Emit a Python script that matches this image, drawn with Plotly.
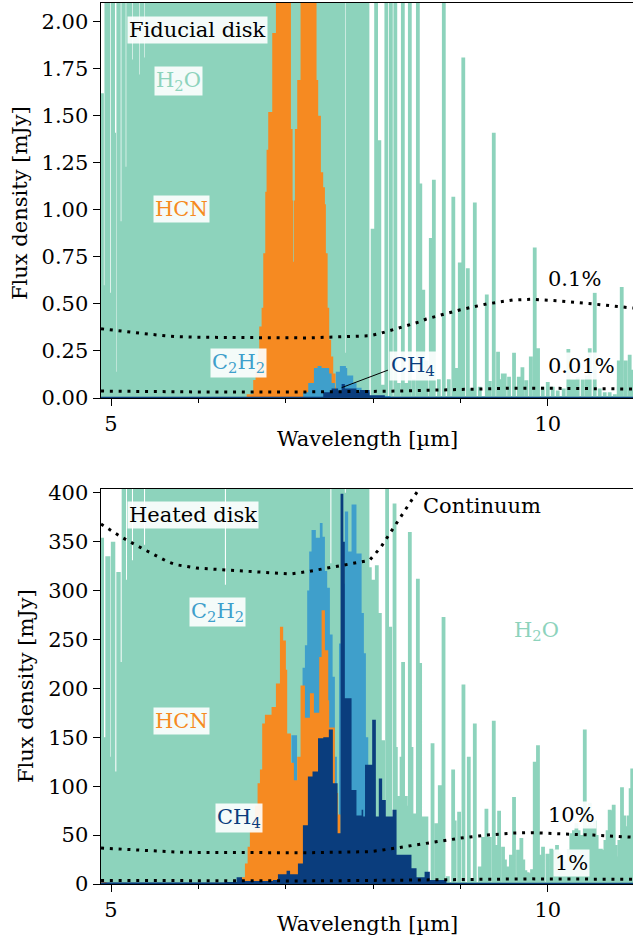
import plotly.graph_objects as go

# ---------- shared ----------
continuum_wave = [4.886, 5.114, 5.38, 5.648, 5.744, 5.98, 7.05, 7.25, 7.66, 7.96, 8.086, 8.196, 8.307, 8.42, 8.527,
                  8.61, 8.99, 9.30, 9.60, 9.81, 10.14, 10.52, 10.976]
continuum_mjy = [368, 355, 342, 329.6, 326.5, 323, 317, 319.4, 326, 331, 344, 359, 374.5, 390, 404,
                 420, 468, 500, 521, 525, 516, 500, 478]

# ---------- fiducial disk (mJy) ----------
h2o1_base_wave = [4.882, 4.918, 4.925, 4.99, 4.998, 5.046, 5.057, 5.062, 5.111, 5.119, 5.168, 5.175, 5.245, 5.252,
                  5.321, 5.327, 5.378, 5.384, 7.68, 7.686, 7.958]
h2o1_base_flux = [1.62, 0.60, 3, 0.56, 3, 1.41, 0.14, 3, 0.94, 3, 1.23, 3, 1.80, 3, 1.72, 3, 1.81, 3, 0.24, 3, 0]
h2o1_line_wave = [7.995, 8.035, 8.072, 8.152, 8.204, 8.255, 8.341, 8.421, 8.513, 8.541, 8.575, 8.612, 8.661, 8.696,
                  8.81, 8.919, 8.993, 9.033, 9.085, 9.165, 9.302, 9.382, 9.431, 9.485, 9.508, 9.557, 9.614, 9.668,
                  9.71, 9.755, 9.806, 9.851, 9.889, 10.0, 10.236, 10.31, 10.481, 10.538, 10.812, 10.847, 10.938,
                  8.112, 8.295, 8.381, 8.467, 8.753, 8.867, 8.959, 9.125, 9.222, 9.336, 9.462, 9.943, 10.057, 10.114,
                  10.183, 10.275, 10.343, 10.4, 10.446, 10.595, 10.652, 10.709, 10.767, 10.892, 10.96]
h2o1_line_flux = [0.9, 3, 1.37, 3, 3, 3, 3, 3, 3, 1.14, 0.575, 0.2, 0.85, 1.16,
                  3, 1.07, 0.72, 1.81, 0.69, 1.04, 0.55, 1.41, 0.246, 0.13, 0.13, 0.113, 0.24, 0.113,
                  0.163, 0.095, 0.22, 0.80, 0.265, 0.085, 0.26, 0.10, 0.265, 0.56, 0.20, 0.59, 0.23,
                  0.07, 0.08, 0.08, 0.10, 0.10, 0.10, 0.16, 0.05, 0.06, 0.09, 0.10, 0.06, 0.06, 0.04,
                  0.05, 0.10, 0.11, 0.10, 0.12, 0.05, 0.03, 0.03, 0.02, 0.20, 0.15]
hcn1_wave = [6.553, 6.628, 6.655, 6.685, 6.697, 6.724, 6.743, 6.766, 6.781, 6.80, 6.846, 6.888, 7.06, 7.079, 7.086,
             7.094, 7.105, 7.132, 7.17, 7.353, 7.372, 7.403, 7.429, 7.449, 7.46, 7.48, 7.498, 7.52, 7.544, 7.571, 7.60]
hcn1_flux = [0.02, 0.096, 0.14, 0.255, 0.38, 0.48, 0.77, 1.096, 1.32, 1.52, 1.94, 3, 1.43, 1.05, 0.725,
             1.05, 1.43, 1.69, 3, 1.69, 1.50, 1.20, 1.12, 1.03, 0.77, 0.48, 0.31, 0.22, 0.13, 0.06, 0]
c2h21_wave = [7.143, 7.2, 7.258, 7.323, 7.365, 7.41, 7.449, 7.498, 7.525, 7.563, 7.574, 7.62, 7.689, 7.704, 7.773,
              7.811, 7.869, 7.963, 8.2]
c2h21_flux = [0, 0.03, 0.08, 0.16, 0.17, 0.16, 0.16, 0.13, 0.08, 0.03, 0.14, 0.17, 0.16, 0.12, 0.08,
              0.055, 0.03, 0.01, 0]
ch41_wave = [4.882, 7.2, 7.43, 7.525, 7.6, 7.64, 7.677, 7.81, 7.85, 7.96, 8.135, 10.976]
ch41_flux = [0.002, 0.005, 0.03, 0.05, 0.04, 0.075, 0.05, 0.03, 0.042, 0.015, 0.005, 0.002]

# ---------- heated disk (mJy) ----------
h2o2_base_wave = [4.882, 4.92, 4.935, 4.992, 4.998, 5.049, 5.061, 5.111, 5.122, 5.172, 5.183, 5.24, 5.252, 5.378, 5.39,
                  6.304, 6.316, 7.511, 7.523, 7.677, 7.688, 7.958]
h2o2_base_flux = [354, 150, 335, 130, 350, 115, 319, 227, 600, 311, 600, 331, 600, 347, 600,
                  306, 600, 328, 600, 400, 600, 0]
h2o2_line_wave = [7.963, 8.006, 8.043, 8.078, 8.115, 8.161, 8.196, 8.246, 8.261, 8.284, 8.326, 8.344, 8.375, 8.40,
                  8.421, 8.44, 8.478, 8.513, 8.539, 8.573, 8.611, 8.681, 8.726, 8.764, 8.807, 8.856, 8.917, 8.935,
                  8.985, 9.035, 9.096, 9.134, 9.165, 9.222, 9.26, 9.298, 9.336, 9.382, 9.41, 9.443, 9.488, 9.51,
                  9.546, 9.578, 9.614, 9.66, 9.698, 9.72, 9.744, 9.77, 9.794, 9.82, 9.851, 9.888, 9.92, 9.946, 9.996,
                  10.04, 10.07, 10.106, 10.135, 10.156, 10.185, 10.213, 10.24, 10.27, 10.30, 10.328, 10.353, 10.377,
                  10.4, 10.424, 10.455, 10.481, 10.51, 10.537, 10.56, 10.583, 10.608, 10.633, 10.66, 10.685, 10.709,
                  10.73, 10.755, 10.775, 10.797, 10.82, 10.85, 10.875, 10.9, 10.925, 10.949, 10.967]
h2o2_line_flux = [324, 311, 326, 277, 147, 500, 263, 389, 140, 90, 130, 227, 90, 80,
                  360, 140, 72, 312, 226, 69, 69, 144, 62, 101, 273, 8, 117, 65,
                  74, 204, 130, 6, 164, 18, 48, 77, 48, 167, 40, 75, 38, 25,
                  18, 30, 89, 35, 47, 25, 14, 12, 11, 15, 125, 142, 30, 38, 31,
                  36, 35, 40, 32, 28, 25, 24, 35, 52, 55, 62, 55, 50,
                  50, 158, 60, 83, 60, 65, 50, 36, 36, 35, 45, 55, 76,
                  75, 81, 40, 28, 45, 99, 70, 59, 70, 98, 118]
hcn2_wave = [4.882, 4.95, 6.476, 6.533, 6.564, 6.59, 6.648, 6.678, 6.705, 6.731, 6.762, 6.838, 6.888, 6.934, 6.971,
             7.002, 7.017, 7.06, 7.094, 7.132, 7.17, 7.22, 7.277, 7.323, 7.384, 7.411, 7.449, 7.487, 7.498, 7.563,
             7.60, 7.628, 7.677, 7.8, 8.0]
hcn2_flux = [2, 0, 7, 21, 38, 55, 80, 103, 117, 164, 173, 181, 205, 263, 249,
             219, 154, 124, 106, 130, 203, 170, 195, 175, 232, 280, 239, 188, 160, 93,
             71, 40, 15, 4, 0]
c2h22_wave = [6.95, 7.066, 7.13, 7.193, 7.22, 7.246, 7.269, 7.296, 7.345, 7.391, 7.422, 7.449, 7.475, 7.506, 7.537,
              7.563, 7.586, 7.61, 7.64, 7.677, 7.715, 7.754, 7.81, 7.869, 7.895, 7.918, 7.945]
c2h22_flux = [10, 152, 80, 221, 244, 300, 340, 362, 354, 369, 355, 320, 303, 255, 212,
              130, 50, 246, 307, 381, 340, 388, 338, 277, 236, 150, 0]
ch42_wave = [4.882, 6.3, 6.438, 6.5, 6.854, 6.911, 7.01, 7.05, 7.14, 7.197, 7.254, 7.307, 7.37, 7.43, 7.494, 7.54,
             7.594, 7.628, 7.66, 7.677, 7.754, 7.81, 7.869, 7.887, 7.908, 7.99, 8.032, 8.066, 8.104, 8.146, 8.223,
             8.269, 8.326, 8.44, 8.498, 8.59, 8.65, 8.84, 10.976]
ch42_flux = [1.5, 2, 7, 3, 4, 10, 13.6, 10, 21, 60, 110, 115, 149, 150, 158, 103,
             52, 399, 350, 190, 96, 70, 76, 69, 122, 168, 69, 108, 86, 69, 76,
             30, 30, 16, 7, 12.6, 4, 1, 1]

x_major = [5, 10]
x_minor = [6, 7, 8, 9]
y1_ticks = [0, 0.25, 0.5, 0.75, 1.0, 1.25, 1.5, 1.75, 2.0]
y2_ticks = [0, 50, 100, 150, 200, 250, 300, 350, 400]

TEAL, ORANGE, BLUE, NAVY = "#8dd3bc", "#f68a21", "#3f9fcb", "#0a3d7d"
SERIF = "DejaVu Serif"
W, H = 633, 938
FS = 21


def sticks(waves, fluxes):
    xs, ys = [], []
    for w, f in zip(waves, fluxes):
        xs += [w, w, w]
        ys += [0, f, 0]
    return xs, ys


fig = go.Figure()


def step(x, y, color, name, ya, xa, clip=True):
    fig.add_trace(go.Scatter(x=x, y=y, mode="lines", name=name, xaxis=xa, yaxis=ya,
                             line=dict(shape="hv", width=0, color=color), fill="tozeroy", fillcolor=color,
                             cliponaxis=clip, showlegend=False, hoverinfo="skip"))


def lines(x, y, color, name, ya, xa):
    fig.add_trace(go.Scatter(x=x, y=y, mode="lines", name=name, xaxis=xa, yaxis=ya,
                             line=dict(width=3.8, color=color), showlegend=False, hoverinfo="skip"))


def dotted(factor, ya, xa, name):
    fig.add_trace(go.Scatter(x=continuum_wave, y=[c * factor for c in continuum_mjy], mode="lines", name=name,
                             xaxis=xa, yaxis=ya, line=dict(color="black", width=3, dash="3px,5.8px"),
                             showlegend=False, hoverinfo="skip"))


def baseline(x, y, ya, xa, name):
    step(x, y, NAVY, name, ya, xa)
    fig.add_trace(go.Scatter(x=[x[0], x[-1]], y=[0, 0], mode="lines", xaxis=xa, yaxis=ya, cliponaxis=False,
                             line=dict(color=NAVY, width=2.6), showlegend=False, hoverinfo="skip"))


# top panel
step(h2o1_base_wave, h2o1_base_flux, TEAL, "H2O", "y", "x")
lines(*sticks(h2o1_line_wave, h2o1_line_flux), TEAL, "H2O lines", "y", "x")
step(hcn1_wave, hcn1_flux, ORANGE, "HCN", "y", "x")
step(c2h21_wave, c2h21_flux, BLUE, "C2H2", "y", "x")
baseline(ch41_wave, ch41_flux, "y", "x", "CH4")
dotted(0.001, "y", "x", "0.1%")
dotted(0.0001, "y", "x", "0.01%")

# bottom panel
step(h2o2_base_wave, h2o2_base_flux, TEAL, "H2O", "y2", "x2")
lines(*sticks(h2o2_line_wave, h2o2_line_flux), TEAL, "H2O lines", "y2", "x2")
step(c2h22_wave, c2h22_flux, BLUE, "C2H2", "y2", "x2")
step(hcn2_wave, hcn2_flux, ORANGE, "HCN", "y2", "x2")
baseline(ch42_wave, ch42_flux, "y2", "x2", "CH4")
dotted(1.0, "y2", "x2", "Continuum")
dotted(0.1, "y2", "x2", "10%")
dotted(0.01, "y2", "x2", "1%")


def px_x(p):
    return p / W


def px_y(p):
    return 1 - p / H


labels = [
    ("Fiducial disk", 197, 30, "black"), ("H<sub>2</sub>O", 178, 81, TEAL), ("HCN", 181, 209, ORANGE),
    ("C<sub>2</sub>H<sub>2</sub>", 239, 363, BLUE), ("CH<sub>4</sub>", 413, 366, NAVY),
    ("0.1%", 574, 279, "black"), ("0.01%", 581, 366, "black"),
    ("Heated disk", 193, 515, "black"), ("Continuum", 482, 506, "black"),
    ("C<sub>2</sub>H<sub>2</sub>", 217, 612, BLUE), ("H<sub>2</sub>O", 536, 631, TEAL), ("HCN", 181, 721, ORANGE),
    ("CH<sub>4</sub>", 239, 818, NAVY), ("10%", 571, 815, "black"), ("1%", 571, 863, "black"),
]
ann = []
for text, px, py, col in labels:
    ann.append(dict(text=text, x=px_x(px), y=px_y(py), xref="paper", yref="paper", showarrow=False,
                    xanchor="center", yanchor="middle", font=dict(family=SERIF, size=FS, color=col),
                    bgcolor="rgba(255,255,255,0.9)", borderpad=1))
for text, px, py, ang in [("Flux density [mJy]", 20, 203, -90), ("Flux density [mJy]", 26, 686, -90),
                          ("Wavelength [µm]", 367, 439, 0), ("Wavelength [µm]", 367, 924, 0)]:
    ann.append(dict(text=text, x=px_x(px), y=px_y(py), xref="paper", yref="paper", showarrow=False, textangle=ang,
                    xanchor="center", yanchor="middle", font=dict(family=SERIF, size=FS, color="black")))

axis_common = dict(showgrid=False, zeroline=False, showline=True, linecolor="black", linewidth=1.3,
                   ticks="outside", ticklen=7, tickwidth=1.2, tickcolor="black", automargin=False,
                   tickfont=dict(family=SERIF, size=FS, color="black"))
xcommon = dict(axis_common, range=[4.882, 10.976], tickmode="array", tickvals=x_major, ticktext=["5", "10"],
               mirror=True, domain=[100.7 / W, 1],
               minor=dict(tickmode="array", tickvals=x_minor, ticks="outside", ticklen=4, tickwidth=1,
                          tickcolor="black"))

fig.update_layout(
    width=W, height=H, margin=dict(l=0, r=0, t=0, b=0, autoexpand=False), paper_bgcolor="white", plot_bgcolor="white",
    font=dict(family=SERIF), annotations=ann,
    xaxis=dict(xcommon, anchor="y"),
    xaxis2=dict(xcommon, anchor="y2"),
    yaxis=dict(axis_common, range=[0, 2.1], tickmode="array", tickvals=y1_ticks, tickformat=".2f", anchor="x",
               domain=[1 - 398 / H, 1 - 3 / H]),
    yaxis2=dict(axis_common, range=[0, 404.4], tickmode="array", tickvals=y2_ticks, anchor="x2",
                domain=[1 - 884 / H, 1 - 488.5 / H]),
    shapes=[dict(type="line", xref="x", yref="y", x0=7.64, y0=0.055, x1=8.17, y1=0.148,
                 line=dict(color="black", width=1))],
)
fig.write_html("out.html", config=dict(displayModeBar=False),
               post_script="document.body.style.margin='0';document.body.style.overflow='hidden';")
